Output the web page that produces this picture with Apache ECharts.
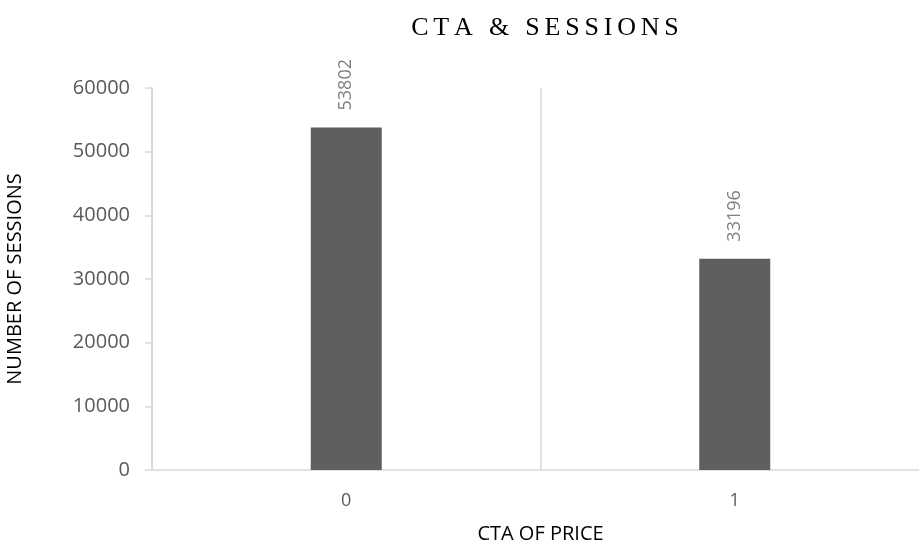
<!DOCTYPE html>
<html>
<head>
<meta charset="utf-8">
<script src="https://cdn.jsdelivr.net/npm/echarts@6/dist/echarts.min.js"></script>
<style>
  html, body { margin: 0; padding: 0; background: #fff; }
  #chart { width: 919px; height: 542px; }
</style>
</head>
<body>
<div id="chart"></div>
<script>
// CTA of price vs. number of sessions
const titleText = 'CTA & SESSIONS';
const categories = ['0', '1'];
const sessions = [53802, 33196];
const yTicks = [0, 10000, 20000, 30000, 40000, 50000, 60000];

// Spaced-out title: each character is its own rich segment with side padding
const spacedTitle = titleText.split('').map(ch => '{c|' + ch + '}').join('');

const chart = echarts.init(document.getElementById('chart'));
chart.setOption({
  animation: false,
  title: {
    text: spacedTitle,
    left: 540,
    top: 10,
    textAlign: 'center',
    textStyle: {
      rich: {
        c: {
          fontFamily: 'Liberation Serif',
          fontWeight: 'normal',
          fontSize: 26,
          color: '#000',
          padding: [0, 2.4, 0, 2.4]
        }
      }
    }
  },
  grid: { left: 152, width: 777, top: 88, bottom: 72, outerBoundsMode: 'none', containLabel: false },
  xAxis: {
    type: 'category',
    data: categories,
    name: 'CTA OF PRICE',
    nameLocation: 'middle',
    nameGap: 54,
    nameMoveOverlap: false,
    nameTextStyle: { fontFamily: 'Open Sans', fontSize: 20, color: '#000' },
    axisLine: { lineStyle: { color: '#d9d9d9', width: 1.5 } },
    axisTick: { show: false },
    axisLabel: { fontFamily: 'Open Sans', fontSize: 18, color: '#595959', margin: 22 },
    splitLine: { show: true, lineStyle: { color: '#d9d9d9', width: 1.5 } }
  },
  yAxis: {
    type: 'value',
    min: yTicks[0],
    max: yTicks[yTicks.length - 1],
    interval: yTicks[1] - yTicks[0],
    name: 'NUMBER OF SESSIONS',
    nameLocation: 'middle',
    nameGap: 127,
    nameMoveOverlap: false,
    nameTextStyle: { fontFamily: 'Open Sans', fontSize: 20, color: '#000' },
    axisLine: { show: true, lineStyle: { color: '#d9d9d9', width: 1.5 } },
    axisTick: { show: true, length: 7, lineStyle: { color: '#d9d9d9', width: 1.5 } },
    axisLabel: {
      fontFamily: 'Open Sans', fontSize: 20, color: '#595959', margin: 22,
      formatter: v => String(v)
    },
    splitLine: { show: false }
  },
  series: [{
    type: 'bar',
    data: sessions,
    barWidth: 71,
    itemStyle: { color: '#5f5f5f' },
    label: {
      show: true,
      position: 'top',
      rotate: 90,
      align: 'left',
      verticalAlign: 'middle',
      distance: 17,
      fontFamily: 'Open Sans',
      fontSize: 18,
      color: '#7f7f7f'
    }
  }]
});
</script>
</body>
</html>
